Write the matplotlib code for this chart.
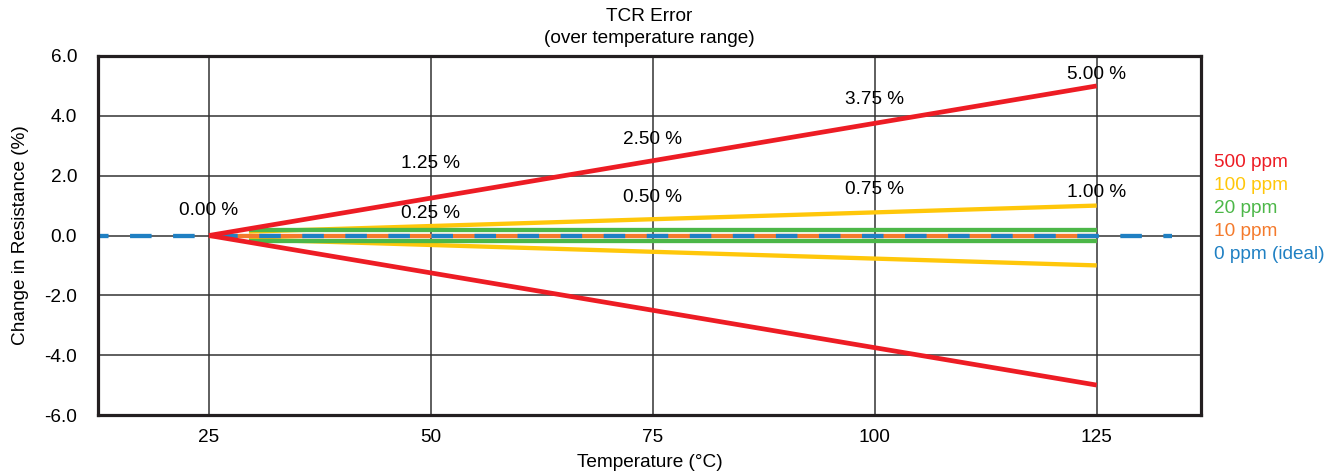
import matplotlib
matplotlib.use("Agg")
import matplotlib.pyplot as plt
import matplotlib.transforms as mtransforms

plt.rcParams["font.family"] = ["Liberation Sans", "DejaVu Sans"]
plt.rcParams["font.size"] = 13.7
plt.rcParams["lines.scale_dashes"] = False

# Dados
temp_span = [25, 125]
red_hi = [0.0, 5.0]            # 500 ppm
red_lo = [0.0, -5.0]
band_x = [29.5, 125]
yellow_hi = [0.13, 1.0]        # 100 ppm
yellow_lo = [-0.13, -1.0]
green_hi = [0.18, 0.18]        # 20 ppm
green_lo = [-0.18, -0.18]
orange_y = [0.0, 0.0]          # 10 ppm
ideal_x = [11.25, 133.5]       # 0 ppm (ideal)
ideal_y = [0.0, 0.0]

label_temps = [25, 50, 75, 100, 125]
red_labels = ["0.00 %", "1.25 %", "2.50 %", "3.75 %", "5.00 %"]
yellow_labels = ["0.25 %", "0.50 %", "0.75 %", "1.00 %"]
yellow_label_temps = [50, 75, 100, 125]

legend_names = ["500 ppm", "100 ppm", "20 ppm", "10 ppm", "0 ppm (ideal)"]

# posições dos rótulos (layout)
red_label_y = [0.69, 2.26, 3.06, 4.40, 5.22]
yellow_label_y = [0.59, 1.12, 1.39, 1.29]

RED = "#ED1C24"
YELLOW = "#FFC70A"
GREEN = "#4CB748"
ORANGE = "#F47A2C"
BLUE = "#1F80C3"
cores = [RED, YELLOW, GREEN, ORANGE, BLUE]

fig = plt.figure(figsize=(13.34, 4.72), dpi=100)
W, H = 1334, 472
ax = fig.add_axes([98 / W, 1 - 415 / H, (1201 - 98) / W, (415 - 56) / H])

ax.set_xlim(12.5, 136.75)
ax.set_ylim(-6, 6)
ax.set_xticks(label_temps)
ax.set_yticks([-6, -4, -2, 0, 2, 4, 6])
ax.set_yticklabels([f"{v:.1f}" for v in [-6, -4, -2, 0, 2, 4, 6]])
ax.tick_params(length=0)
ax.tick_params(axis="y", pad=15)
ax.tick_params(axis="x", pad=10)
ax.grid(True, color="#333333", linewidth=1.1)
ax.set_axisbelow(True)
for s in ax.spines.values():
    s.set_linewidth(2.3)
    s.set_color("#231F20")

lw = 3.1
ax.plot(band_x, yellow_hi, color=YELLOW, lw=lw, solid_capstyle="butt")
ax.plot(band_x, yellow_lo, color=YELLOW, lw=lw, solid_capstyle="butt")
ax.plot(band_x, green_hi, color=GREEN, lw=lw, solid_capstyle="butt")
ax.plot(band_x, green_lo, color=GREEN, lw=lw, solid_capstyle="butt")
ax.plot(temp_span, orange_y, color=ORANGE, lw=lw, solid_capstyle="butt")
ax.plot(ideal_x, ideal_y, color=BLUE, lw=lw, dashes=(15.5, 15.5))
ax.plot(temp_span, red_hi, color=RED, lw=3.4, solid_capstyle="butt")
ax.plot(temp_span, red_lo, color=RED, lw=3.4, solid_capstyle="butt")

for t, txt, y in zip(label_temps, red_labels, red_label_y):
    ax.text(t, y, txt, ha="center", va="baseline")
for t, txt, y in zip(yellow_label_temps, yellow_labels, yellow_label_y):
    ax.text(t, y, txt, ha="center", va="baseline")

trans = mtransforms.blended_transform_factory(ax.transAxes, ax.transData)
for i, (nome, cor) in enumerate(zip(legend_names, cores)):
    ax.text(1.0118, 2.29 - i * 0.77, nome, color=cor, transform=trans,
            ha="left", va="baseline")

ax.set_title("TCR Error\n(over temperature range)", fontsize=13.7, pad=9.5,
             linespacing=1.36)
ax.set_xlabel("Temperature (°C)", labelpad=6)
ax.set_ylabel("Change in Resistance (%)", labelpad=11)

fig.savefig("out.png", dpi=100)
